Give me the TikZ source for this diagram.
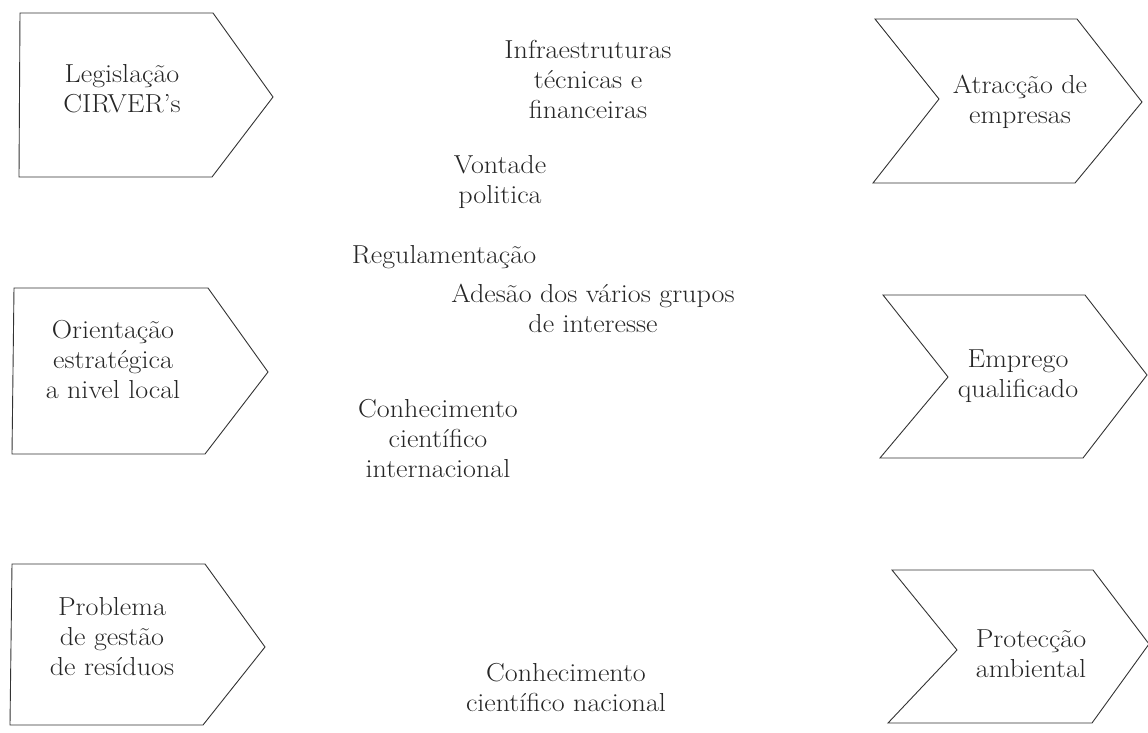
\documentclass[tikz,border=0pt]{standalone}
\usepackage{fontspec}
\setmainfont{Latin Modern Roman}[FakeStretch=1.08]
\begin{document}
\begin{tikzpicture}[x=1pt,y=-1pt,
  shapeline/.style={draw=black!80, line width=0.9pt, line join=miter},
  txt/.style={align=center, inner sep=0pt, anchor=north, text=black!85,
    font=\fontsize{26}{30}\selectfont}]
\useasboundingbox (0,0) rectangle (1148,733);
% left pentagon arrows
\draw[shapeline] (20,13) -- (213,13) -- (273,97) -- (212,177) -- (19,177) -- cycle;
\draw[shapeline] (14,288) -- (208,288) -- (268,372) -- (205,454) -- (12,454) -- cycle;
\draw[shapeline] (12,564) -- (205,564) -- (265,647) -- (203,725) -- (10,725) -- cycle;
% right chevrons
\draw[shapeline] (875,19) -- (1077,19) -- (1142,102) -- (1075,183) -- (873,183) -- (939,99) -- cycle;
\draw[shapeline] (883,295) -- (1085,295) -- (1147,375) -- (1083,458) -- (880,458) -- (948,377) -- cycle;
\draw[shapeline] (892,570) -- (1093,570) -- (1149,644) -- (1092,723) -- (888,723) -- (957,650) -- cycle;
% texts in shapes
\node[txt] (leg) at (122,61) {\strut Legislação\\CIRVER's};
\node[txt] (ori) at (113,317) {\strut Orientação\\estratégica\\a nivel local};
\node[txt] (pro) at (112,594) {\strut Problema\\de gestão\\de resíduos};
\node[txt] (atr) at (1020,72) {\strut Atracção de\\empresas};
\node[txt] (emp) at (1018,346) {\strut Emprego\\qualificado};
\node[txt] (prot) at (1031,626) {\strut Protecção\\ambiental};
% middle texts
\node[txt] (inf) at (588,37) {\strut Infraestruturas\\técnicas e\\financeiras};
\node[txt] (von) at (500,152) {\strut Vontade\\politica};
\node[txt] (reg) at (444,242) {\strut Regulamentação};
\node[txt] (ade) at (593,281) {\strut Adesão dos vários grupos\\de interesse};
\node[txt] (cint) at (438,396) {\strut Conhecimento\\científico\\internacional};
\node[txt] (cnac) at (566,660) {\strut Conhecimento\\científico nacional};
\end{tikzpicture}
\end{document}
